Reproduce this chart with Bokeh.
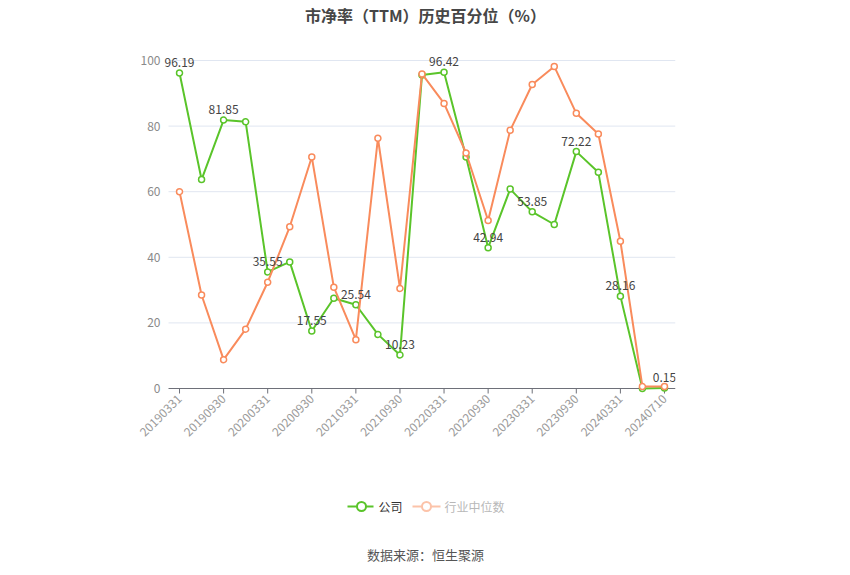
import math
from bokeh.plotting import figure
from bokeh.layouts import column
from bokeh.models import ColumnDataSource, FixedTicker, Range1d
from bokeh.core.properties import value
from bokeh.embed import file_html
from bokeh.resources import INLINE

dates = ["20190331", "20190630", "20190930", "20191231", "20200331", "20200630",
         "20200930", "20201231", "20210331", "20210630", "20210930", "20211231",
         "20220331", "20220630", "20220930", "20221231", "20230331", "20230630",
         "20230930", "20231231", "20240331", "20240630", "20240710"]
company = [96.19, 63.7, 81.85, 81.3, 35.55, 38.6, 17.55, 27.5, 25.54, 16.5, 10.23, 95.6,
           96.42, 70.6, 42.94, 60.8, 53.85, 50.0, 72.22, 65.9, 28.16, 0.0, 0.15]
industry = [60.0, 28.5, 8.8, 18.1, 32.4, 49.3, 70.6, 30.9, 14.9, 76.3, 30.5, 95.9,
            86.9, 71.8, 51.2, 78.7, 92.7, 98.2, 83.9, 77.6, 44.9, 0.6, 0.6]
y_ticks = [0, 20, 40, 60, 80, 100]
title_text = "市净率（TTM）历史百分位（%）"
source_text = "数据来源：恒生聚源"
series_names = ["公司", "行业中位数"]

GREEN = "#5ac42a"
ORANGE = "#f98b5c"
FADED = "#fcc3a9"
AXIS = "#6e7079"
FONT = "Noto Sans CJK SC"
W = 850

# layout geometry (canvas pixels)
FL, AXL, FR = 120, 168, 675          # frame left, axis-line left, frame right
YLAB_R = 160                          # right edge of y tick labels
TH = 30                               # title strip height
top_px, grid100_px, zero_px, frame_bot = 30, 60, 388, 395
TICK = 5
PH = frame_bot - TH + 62              # main chart height
FH = 575 - TH - PH                    # footer height


def blank(h):
    f = figure(width=W, height=h, x_range=Range1d(FL, FR), y_range=Range1d(h, 0),
               output_backend="svg", toolbar_location=None, x_axis_type=None,
               y_axis_type=None, min_border_left=FL, min_border_right=W - FR,
               min_border_top=0, min_border_bottom=0)
    f.outline_line_color = None
    f.xgrid.grid_line_color = None
    f.ygrid.grid_line_color = None
    f.border_fill_color = "white"
    return f


# ---- title strip ----
t = blank(TH)
t.text(x=[W / 2], y=[14], text=[title_text], text_align="center", text_baseline="middle",
       text_font_size="16px", text_font_style="bold", text_color="#464646",
       text_font=value(FONT))

# ---- main chart ----
n = len(dates)
ppu = (FR - AXL) / n
x_start = -0.5 - (AXL - FL) / ppu
ppy = (zero_px - grid100_px) / 100.0
y_max = (zero_px - top_px) / ppy
y_min = -(frame_bot - zero_px) / ppy

xs = list(range(n))
src = ColumnDataSource(dict(x=xs, c=company, i=industry))
lab_idx = list(range(0, n, 2))
lab_src = ColumnDataSource(dict(x=lab_idx, y=[company[k] for k in lab_idx],
                                t=["%.2f" % company[k] for k in lab_idx]))

p = figure(width=W, height=PH, x_range=Range1d(x_start, n - 0.5),
           y_range=Range1d(y_min, y_max), output_backend="svg", toolbar_location=None,
           y_axis_type=None,
           min_border_left=FL, min_border_right=W - FR, min_border_top=0,
           min_border_bottom=(TH + PH) - frame_bot)
p.outline_line_color = None
p.background_fill_color = "white"
p.border_fill_color = "white"
p.xgrid.grid_line_color = None
p.ygrid.grid_line_color = None

# horizontal grid lines, x axis line and ticks over the category span
g = [v for v in y_ticks if v > 0]
p.segment(x0=[-0.5] * len(g), x1=[n - 0.5] * len(g), y0=g, y1=g,
          line_color="#e0e6f1", line_width=1)
p.segment(x0=[-0.5], x1=[n - 0.5], y0=[0], y1=[0], line_color=AXIS, line_width=1)
p.segment(x0=lab_idx, x1=lab_idx, y0=[0] * len(lab_idx),
          y1=[-TICK / ppy] * len(lab_idx), line_color=AXIS, line_width=1)

# y tick labels
ylab_x = x_start + (YLAB_R - FL) / ppu
p.text(x=[ylab_x] * len(y_ticks), y=y_ticks, text=[str(v) for v in y_ticks],
       text_align="right", text_baseline="middle", text_font_size="12px",
       text_color="#8a8a8a", text_font=value(FONT))

xa = p.xaxis[0]
xa.ticker = FixedTicker(ticks=lab_idx)
xa.major_label_overrides = {k: dates[k] for k in lab_idx}
xa.major_label_orientation = math.pi / 4
xa.axis_line_color = None
xa.major_tick_line_color = None
xa.major_tick_out = 0
xa.major_tick_in = 0
xa.minor_tick_line_color = None
xa.major_label_text_font_size = "12px"
xa.major_label_text_color = "#9a9a9a"
xa.major_label_text_font = FONT
xa.major_label_standoff = 1

p.line("x", "c", source=src, line_color=GREEN, line_width=2)
p.scatter("x", "c", source=src, size=6, fill_color="white", line_color=GREEN, line_width=1.5)
p.line("x", "i", source=src, line_color=ORANGE, line_width=2)
p.scatter("x", "i", source=src, size=6, fill_color="white", line_color=ORANGE, line_width=1.5)

p.text("x", "y", text="t", source=lab_src, text_align="center", text_baseline="bottom",
       y_offset=-6, text_font_size="12px", text_color="#444444", text_font=value(FONT))

# ---- footer: legend + source ----
f = blank(FH)
off = TH + PH
ly = 506 - off
f.line(x=[347, 373], y=[ly, ly], line_color=GREEN, line_width=2)
f.scatter(x=[361], y=[ly], size=9, fill_color="white", line_color=GREEN, line_width=2)
f.text(x=[378], y=[ly], text=[series_names[0]], text_baseline="middle",
       text_font_size="12px", text_color="#333333", text_font=value(FONT))
f.line(x=[412, 440], y=[ly, ly], line_color=FADED, line_width=2)
f.scatter(x=[426], y=[ly], size=9, fill_color="white", line_color=FADED, line_width=2)
f.text(x=[444], y=[ly], text=[series_names[1]], text_baseline="middle",
       text_font_size="12px", text_color="#b8b8b8", text_font=value(FONT))
f.text(x=[W / 2], y=[554 - off], text=[source_text], text_align="center",
       text_baseline="middle", text_font_size="13px", text_color="#555555",
       text_font=value(FONT))

layout = column(t, p, f, spacing=0)
open("out.html", "w").write(file_html(layout, INLINE))
